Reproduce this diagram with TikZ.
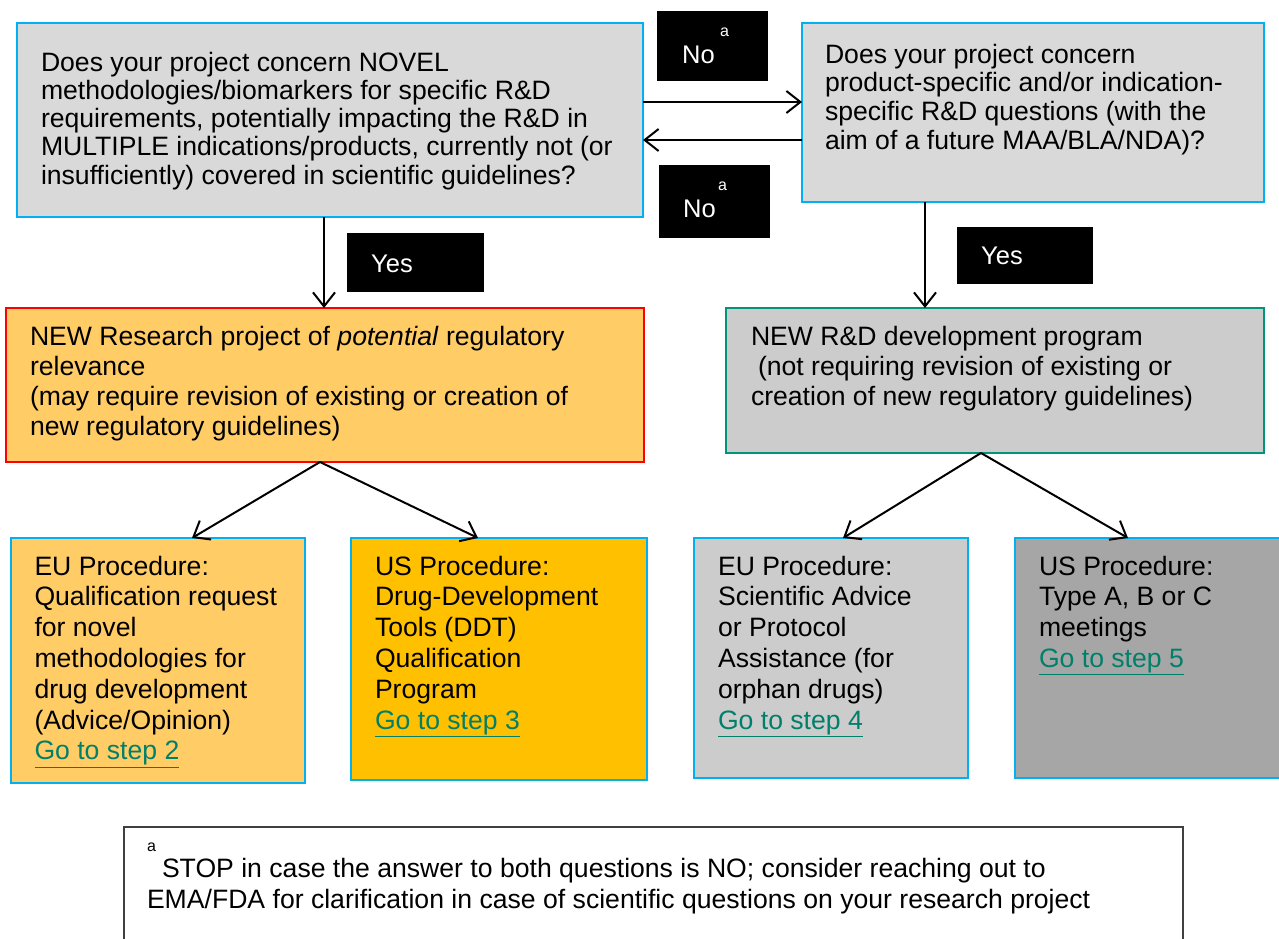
\documentclass[tikz,border=0pt]{standalone}
\usepackage{fontspec}
\setmainfont{Liberation Sans}
\usetikzlibrary{arrows.meta,calc}
\definecolor{qfill}{HTML}{D9D9D9}
\definecolor{cyanb}{HTML}{00B0F0}
\definecolor{orfill}{HTML}{FFCC66}
\definecolor{goldfill}{HTML}{FFC000}
\definecolor{grfill}{HTML}{CCCCCC}
\definecolor{dgfill}{HTML}{A6A6A6}
\definecolor{tealb}{HTML}{00957A}
\definecolor{linkc}{HTML}{00806A}
\definecolor{footb}{HTML}{404040}
\newcommand{\linktext}[1]{\textcolor{linkc}{\underline{#1}}}
\newcommand{\firstln}{\rule{0pt}{21pt}}
\tikzset{
  boxbase/.style={rectangle, anchor=north west, inner sep=0pt, outer sep=0pt},
  qbox/.style={boxbase, draw=cyanb, fill=qfill, line width=2pt},
  procbox/.style={boxbase, draw=cyanb, line width=2pt},
  lblbox/.style={boxbase, fill=black},
  txt/.style={anchor=north west, inner sep=0pt, outer sep=0pt, align=left},
  lbltxt/.style={anchor=base west, inner sep=0pt, text=white, font=\fontsize{25.5}{30}\selectfont},
  suptxt/.style={anchor=base west, inner sep=0pt, font=\fontsize{16}{18}\selectfont},
  arr/.style={line width=2pt, -{Straight Barb[length=14pt,width=22pt]}},
}
\begin{document}
\begin{tikzpicture}[x=1pt,y=-1pt]
\useasboundingbox (0,0) rectangle (1279,939);
% question boxes
\node[qbox, minimum width=626pt, minimum height=194pt] (q1) at (17,23) {};
\node[qbox, minimum width=462pt, minimum height=179pt] (q2) at (802,23) {};
\node[txt, font=\fontsize{26.6}{28.3}\selectfont] (q1t) at (41,50) {\firstln Does your project concern NOVEL\\ methodologies/biomarkers for specific R\&D\\ requirements, potentially impacting the R\&D in\\ MULTIPLE indications/products, currently not (or\\ insufficiently) covered in scientific guidelines?};
\node[txt, font=\fontsize{26.6}{28.7}\selectfont] (q2t) at (825,42) {\firstln Does your project concern\\ product-specific and/or indication-\\ specific R\&D questions (with the\\ aim of a future MAA/BLA/NDA)?};
% No labels
\node[lblbox, minimum width=111pt, minimum height=70pt] (no1) at (657,11) {};
\node[lblbox, minimum width=111pt, minimum height=73pt] (no2) at (659,165) {};
\node[lbltxt] (no1t) at (682,64) {No};
\node[suptxt, text=white] (no1a) at (720,37) {a};
\node[lbltxt] (no2t) at (683,217) {No};
\node[suptxt, text=white] (no2a) at (718,190) {a};
% Yes labels
\node[lblbox, minimum width=137pt, minimum height=59pt] (yes1) at (347,233) {};
\node[lblbox, minimum width=136pt, minimum height=57pt] (yes2) at (957,227) {};
\node[lbltxt] (yes1t) at (371,272) {Yes};
\node[lbltxt] (yes2t) at (981,264) {Yes};
% middle boxes
\node[boxbase, draw=red, fill=orfill, line width=2.5pt, minimum width=638pt, minimum height=154pt] (red) at (6,308) {};
\node[boxbase, draw=tealb, fill=grfill, line width=2.5pt, minimum width=538pt, minimum height=145pt] (green) at (726,308) {};
\node[txt, font=\fontsize{26.6}{30}\selectfont] (redt) at (30,324) {\firstln NEW Research project of \textit{potential} regulatory\\ relevance\\ (may require revision of existing or creation of\\ new regulatory guidelines)};
\node[txt, font=\fontsize{26.6}{30}\selectfont] (greent) at (751,324) {\firstln NEW R\&D development program\\ \hspace*{7pt}(not requiring revision of existing or\\ creation of new regulatory guidelines)};
% procedure boxes
\node[procbox, fill=orfill, minimum width=294.5pt, minimum height=245pt] (eu1) at (10.5,538) {};
\node[procbox, fill=goldfill, minimum width=296pt, minimum height=242pt] (us1) at (351,538) {};
\node[procbox, fill=grfill, minimum width=274pt, minimum height=240pt] (eu2) at (694,538) {};
\node[procbox, fill=dgfill, minimum width=275pt, minimum height=240pt] (us2) at (1015,538) {};
\node[txt, font=\fontsize{26.6}{30.8}\selectfont] (eu1t) at (34.5,554) {\firstln EU Procedure:\\ Qualification request\\ for novel\\ methodologies for\\ drug development\\ (Advice/Opinion)\\ \linktext{Go to step 2}};
\node[txt, font=\fontsize{26.6}{30.8}\selectfont] (us1t) at (375,554) {\firstln US Procedure:\\ Drug-Development\\ Tools (DDT)\\ Qualification\\ Program\\ \linktext{Go to step 3}};
\node[txt, font=\fontsize{26.6}{30.8}\selectfont] (eu2t) at (718,554) {\firstln EU Procedure:\\ Scientific Advice\\ or Protocol\\ Assistance (for\\ orphan drugs)\\ \linktext{Go to step 4}};
\node[txt, font=\fontsize{26.6}{30.8}\selectfont] (us2t) at (1039,554) {\firstln US Procedure:\\ Type A, B or C\\ meetings\\ \linktext{Go to step 5}};
% footnote
\node[boxbase, draw=footb, fill=white, line width=2pt, minimum width=1059pt, minimum height=130pt] (foot) at (124,827) {};
\node[suptxt] (fa) at (147,851) {a};
\node[txt, font=\fontsize{26.6}{31}\selectfont] (foott) at (147,856) {\firstln\hspace*{15pt}STOP in case the answer to both questions is NO; consider reaching out to\\ EMA/FDA for clarification in case of scientific questions on your research project};
% connectors
\draw[arr] ($(q1.north east)+(0,79)$) -- ($(q2.north west)+(0,79)$);
\draw[arr] ($(q2.north west)+(0,117)$) -- ($(q1.north east)+(0,117)$);
\draw[arr] ($(q1.south west)+(307,0)$) -- ($(red.north west)+(318,0)$);
\draw[arr] ($(q2.south west)+(123,0)$) -- ($(green.north west)+(199,0)$);
\draw[arr] ($(red.south west)+(314,0)$) -- ($(eu1.north west)+(181.5,0)$);
\draw[arr] ($(red.south west)+(314,0)$) -- ($(us1.north west)+(127,0)$);
\draw[arr] ($(green.south west)+(255,0)$) -- ($(eu2.north west)+(149,0)$);
\draw[arr] ($(green.south west)+(255,0)$) -- ($(us2.north west)+(113,0)$);
\end{tikzpicture}
\end{document}
